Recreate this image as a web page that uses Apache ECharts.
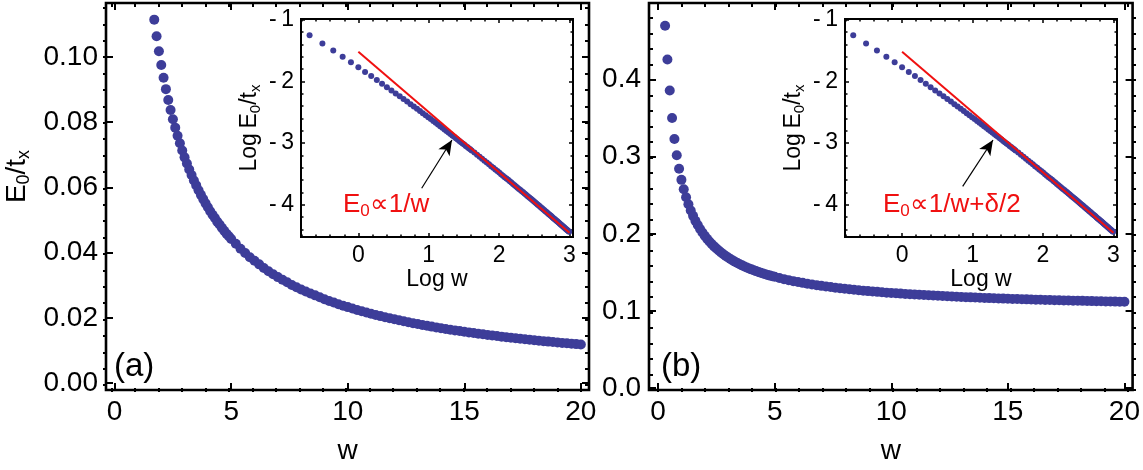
<!DOCTYPE html>
<html>
<head>
<meta charset="utf-8">
<script src="https://cdn.jsdelivr.net/npm/echarts@6/dist/echarts.min.js"></script>
<style>
  html, body { margin: 0; padding: 0; background: #fff; }
  #chart { width: 1143px; height: 470px; }
</style>
</head>
<body>
<div id="chart"></div>
<script>
// coupling w (same grid for both panels)
var wValues = [
    0.3, 0.4, 0.5, 0.6, 0.7, 0.8, 0.9, 1.0, 1.1, 1.2, 1.3, 1.4, 1.5, 1.6, 1.7, 1.8, 1.9, 2.0,
    2.1, 2.2, 2.3, 2.4, 2.5, 2.6, 2.7, 2.8, 2.9, 3.0, 3.1, 3.2, 3.3, 3.4, 3.5, 3.6, 3.7, 3.8,
    3.9, 4.0, 4.1, 4.2, 4.3, 4.4, 4.5, 4.6, 4.7, 4.8, 4.9, 5.0,
    5.2, 5.4, 5.6, 5.8, 6.0, 6.2, 6.4, 6.6, 6.8, 7.0, 7.2, 7.4, 7.6, 7.8, 8.0, 8.2, 8.4, 8.6,
    8.8, 9.0, 9.2, 9.4, 9.6, 9.8, 10.0, 10.2, 10.4, 10.6, 10.8, 11.0, 11.2, 11.4, 11.6, 11.8,
    12.0, 12.2, 12.4, 12.6, 12.8, 13.0, 13.2, 13.4, 13.6, 13.8, 14.0, 14.2, 14.4, 14.6, 14.8,
    15.0, 15.2, 15.4, 15.6, 15.8, 16.0, 16.2, 16.4, 16.6, 16.8, 17.0, 17.2, 17.4, 17.6, 17.8,
    18.0, 18.2, 18.4, 18.6, 18.8, 19.0, 19.2, 19.4, 19.6, 19.8, 20.0
];
// E0/tx, panel (a)
var energyA = [
    0.370, 0.327, 0.2860, 0.2503, 0.2231, 0.2018, 0.1844, 0.1700, 0.1578, 0.1474, 0.1383,
    0.1303, 0.1233, 0.1168, 0.1114, 0.1063, 0.1017, 0.0975, 0.0936, 0.0901, 0.0868, 0.0837,
    0.0809, 0.0783, 0.0758, 0.0735, 0.0713, 0.0692, 0.0673, 0.0655, 0.0638, 0.0621, 0.0606,
    0.0591, 0.0577, 0.0564, 0.0551, 0.0539, 0.0527, 0.0516, 0.0506, 0.0495, 0.0486, 0.0476,
    0.0467, 0.0458, 0.0450, 0.0442,
    0.0427, 0.0412, 0.0399, 0.0386, 0.0375, 0.0364, 0.0353, 0.0343, 0.0334, 0.0325, 0.0317,
    0.0309, 0.0301, 0.0294, 0.0287, 0.0281, 0.0275, 0.0269, 0.0263, 0.0257, 0.0252, 0.0247,
    0.0242, 0.0237, 0.0233, 0.02286, 0.02244, 0.02203, 0.02165, 0.02127, 0.02091, 0.02055,
    0.02021, 0.01989, 0.01956, 0.01925, 0.01895, 0.01866, 0.01838, 0.01811, 0.01784, 0.01758,
    0.01733, 0.01709, 0.01685, 0.01662, 0.01639, 0.01617, 0.01596, 0.01575, 0.01555, 0.01535,
    0.01515, 0.01496, 0.01478, 0.01460, 0.01443, 0.01425, 0.01409, 0.01392, 0.01376, 0.01361,
    0.01345, 0.01330, 0.01315, 0.01301, 0.01287, 0.01273, 0.01260, 0.01247, 0.01233, 0.01221,
    0.01208, 0.01196, 0.01184
];
// E0/tx, panel (b)
var energyB = [
    0.470, 0.426, 0.3860, 0.3503, 0.3231, 0.3018, 0.2844, 0.2700, 0.2578, 0.2474, 0.2383,
    0.2303, 0.2233, 0.2168, 0.2114, 0.2063, 0.2017, 0.1975, 0.1936, 0.1901, 0.1868, 0.1837,
    0.1809, 0.1783, 0.1758, 0.1735, 0.1713, 0.1692, 0.1673, 0.1655, 0.1638, 0.1621, 0.1606,
    0.1591, 0.1577, 0.1564, 0.1551, 0.1539, 0.1527, 0.1516, 0.1506, 0.1495, 0.1486, 0.1476,
    0.1467, 0.1458, 0.1450, 0.1442,
    0.1427, 0.1412, 0.1399, 0.1386, 0.1375, 0.1364, 0.1353, 0.1343, 0.1334, 0.1325, 0.1317,
    0.1309, 0.1301, 0.1294, 0.1287, 0.1281, 0.1275, 0.1269, 0.1263, 0.1257, 0.1252, 0.1247,
    0.1242, 0.1237, 0.1233, 0.12286, 0.12244, 0.12203, 0.12165, 0.12127, 0.12091, 0.12055,
    0.12021, 0.11989, 0.11956, 0.11925, 0.11895, 0.11866, 0.11838, 0.11811, 0.11784, 0.11758,
    0.11733, 0.11709, 0.11685, 0.11662, 0.11639, 0.11617, 0.11596, 0.11575, 0.11555, 0.11535,
    0.11515, 0.11496, 0.11478, 0.11460, 0.11443, 0.11425, 0.11409, 0.11392, 0.11376, 0.11361,
    0.11345, 0.11330, 0.11315, 0.11301, 0.11287, 0.11273, 0.11260, 0.11247, 0.11233, 0.11221,
    0.11208, 0.11196, 0.11184
];
var halfDelta = 0.1;           // offset removed before taking the log in inset (b)
// red guide line in the insets (Log w, Log E0/tx)
var fitLogW = [0, 3];
var fitLogE = [-1.52, -4.45];

// ticks
var mainXTicks = [0, 5, 10, 15, 20];
var mainXMinor = [0, 1, 2, 3, 4, 5, 6, 7, 8, 9, 10, 11, 12, 13, 14, 15, 16, 17, 18, 19, 20];
var mainAYTicks = [0, 0.02, 0.04, 0.06, 0.08, 0.10];
var mainAYMinor = [0, 0.005, 0.01, 0.015, 0.02, 0.025, 0.03, 0.035, 0.04, 0.045, 0.05,
    0.055, 0.06, 0.065, 0.07, 0.075, 0.08, 0.085, 0.09, 0.095, 0.10, 0.105, 0.11, 0.115];
var mainBYTicks = [0, 0.1, 0.2, 0.3, 0.4];
var mainBYMinor = [0, 0.02, 0.04, 0.06, 0.08, 0.1, 0.12, 0.14, 0.16, 0.18, 0.2, 0.22, 0.24,
    0.26, 0.28, 0.3, 0.32, 0.34, 0.36, 0.38, 0.4, 0.42, 0.44, 0.46, 0.48];
var insetXTicks = [0, 1, 2, 3];
var insetXMinor = [-0.8, -0.6, -0.4, -0.2, 0, 0.2, 0.4, 0.6, 0.8, 1, 1.2, 1.4, 1.6, 1.8, 2,
    2.2, 2.4, 2.6, 2.8, 3];
var insetYTicks = [-4, -3, -2, -1];
var insetYMinor = [-4.4, -4.2, -4, -3.8, -3.6, -3.4, -3.2, -3, -2.8, -2.6, -2.4, -2.2, -2,
    -1.8, -1.6, -1.4, -1.2, -1];

var FONT = '"Liberation Sans", Arial, sans-serif';
var DOT = '#3d3d99';
var RED = '#f01010';

// one panel frame = two stacked grids: majors (with labels) and minors
function frameAxes(dim, grid, range, majors, minors, st) {
    var sides = dim === 'x' ? ['bottom', 'top'] : ['left', 'right'];
    var list = [];
    [majors, minors].forEach(function (ticks, m) {
        sides.forEach(function (side, s) {
            var ax = {
                type: 'value',
                gridIndex: grid + m,
                position: side,
                min: range[0],
                max: range[1],
                axisLine: { show: false, onZero: false },
                splitLine: { show: false },
                axisTick: {
                    show: true,
                    inside: true,
                    customValues: ticks,
                    length: m ? st.minorLen : st.majorLen,
                    lineStyle: { color: '#000', width: st.tickWidth }
                },
                axisLabel: { show: false }
            };
            if (m === 0 && s === 0) {
                ax.axisLabel = {
                    show: true,
                    customValues: ticks,
                    margin: st.labelMargin,
                    color: '#000',
                    fontFamily: FONT,
                    fontSize: st.labelSize,
                    formatter: st.formatter
                };
                if (st.name) {
                    ax.name = st.name;
                    ax.nameLocation = 'middle';
                    ax.nameGap = st.nameGap;
                    ax.nameTextStyle = st.nameStyle;
                }
            }
            list.push(ax);
        });
    });
    return list;
}

// rich styles with a lowered subscript; key is 'color' for axis names, 'fill' for graphic text
function subRich(size, color, key) {
    var small = Math.round(size * 0.66);
    var n = { fontFamily: FONT, fontSize: size, lineHeight: size };
    var s = { fontFamily: FONT, fontSize: small, lineHeight: small,
              padding: [Math.round(size * 0.5), 0, 0, 0] };
    n[key || 'color'] = color;
    s[key || 'color'] = color;
    return { n: n, s: s };
}

var mainStyle = { majorLen: 7, minorLen: 4, tickWidth: 2, labelMargin: 8, labelSize: 28 };
var insetStyle = { majorLen: 4, minorLen: 2.5, tickWidth: 1.5, labelMargin: 7, labelSize: 23 };

function ext(base, more) {
    var o = {};
    for (var k in base) o[k] = base[k];
    for (var k2 in more) o[k2] = more[k2];
    return o;
}

var fixed = function (d) { return function (v) { return v.toFixed(d); }; };
var minus = function (v) { return v < 0 ? '-\u2009' + Math.abs(v) : String(v); };

// grids: [main a, main a minors, inset a, inset a minors, main b, ..., inset b, ...]
var grids = [];
function addGrid(left, top, width, height, border, bg) {
    grids.push({ left: left, top: top, width: width, height: height, show: true,
        borderColor: '#000', borderWidth: border, backgroundColor: bg });
    grids.push({ left: left, top: top, width: width, height: height, show: false });
}
addGrid(103, 3, 486, 389, 2.6, 'transparent');
addGrid(301, 19, 272, 218, 2, '#fff');
addGrid(649, 3, 487, 389, 2.6, 'transparent');
addGrid(845, 19, 272, 218, 2, '#fff');

var xName = { fontFamily: FONT, fontSize: 28, color: '#000' };
var insetXName = { fontFamily: FONT, fontSize: 23, color: '#000' };
var yNameA = { rich: subRich(28, '#000'), padding: [0, 0, 0, 40] };
var insetYName = { rich: subRich(23, '#000') };
var xAxes = [].concat(
    frameAxes('x', 0, [-0.37, 20.35], mainXTicks, mainXMinor, ext(mainStyle, {
        formatter: fixed(0), name: 'w', nameGap: 47, nameStyle: xName })),
    frameAxes('x', 2, [-0.815, 3.05], insetXTicks, insetXMinor, ext(insetStyle, {
        formatter: fixed(0), name: 'Log w', nameGap: 27, nameStyle: insetXName })),
    frameAxes('x', 4, [-0.39, 20.35], mainXTicks, mainXMinor, ext(mainStyle, {
        formatter: fixed(0), name: 'w', nameGap: 47, nameStyle: xName })),
    frameAxes('x', 6, [-0.81, 3.05], insetXTicks, insetXMinor, ext(insetStyle, {
        formatter: fixed(0), name: 'Log w', nameGap: 27, nameStyle: insetXName }))
);
var yAxes = [].concat(
    frameAxes('y', 0, [-0.0021, 0.1165], mainAYTicks, mainAYMinor, ext(mainStyle, {
        formatter: fixed(2), name: '{n|E}{s|0}{n|/t}{s|x}', nameGap: 75, nameStyle: yNameA })),
    frameAxes('y', 2, [-4.52, -0.99], insetYTicks, insetYMinor, ext(insetStyle, {
        formatter: minus, name: '{n|Log\u2009E}{s|0}{n|/t}{s|x}', nameGap: 40,
        nameStyle: insetYName })),
    frameAxes('y', 4, [-0.0026, 0.4994], mainBYTicks, mainBYMinor, ext(mainStyle, {
        formatter: fixed(1) })),
    frameAxes('y', 6, [-4.52, -0.99], insetYTicks, insetYMinor, ext(insetStyle, {
        formatter: minus, name: '{n|Log\u2009E}{s|0}{n|/t}{s|x}', nameGap: 40,
        nameStyle: insetYName }))
);

function mainPoints(energy) {
    return wValues.map(function (w, i) { return [w, energy[i]]; });
}
function logPoints(energy, shift) {
    return wValues.map(function (w, i) { return [Math.log(w), Math.log(energy[i] - shift)]; });
}
var fitLine = fitLogW.map(function (x, i) { return [x, fitLogE[i]]; });

function arrow(from, to) {
    return {
        silent: true,
        symbol: ['none', 'arrow'],
        symbolSize: [10, 15],
        lineStyle: { color: '#000', width: 1.2, type: 'solid' },
        label: { show: false },
        data: [[{ coord: from }, { coord: to }]]
    };
}

var dotStyle = { color: DOT, opacity: 1 };
var series = [
    { type: 'scatter', xAxisIndex: 0, yAxisIndex: 0, data: mainPoints(energyA),
      symbolSize: 10, itemStyle: dotStyle, clip: true },
    { type: 'scatter', xAxisIndex: 4, yAxisIndex: 4, data: logPoints(energyA, 0),
      symbolSize: 6, itemStyle: dotStyle, clip: true, z: 5 },
    { type: 'line', xAxisIndex: 4, yAxisIndex: 4, data: fitLine, symbol: 'none',
      lineStyle: { color: RED, width: 2 }, z: 6,
      markLine: arrow([0.9, -3.73], [1.33, -2.95]) },
    { type: 'scatter', xAxisIndex: 8, yAxisIndex: 8, data: mainPoints(energyB),
      symbolSize: 10, itemStyle: dotStyle, clip: true },
    { type: 'scatter', xAxisIndex: 12, yAxisIndex: 12, data: logPoints(energyB, halfDelta),
      symbolSize: 6, itemStyle: dotStyle, clip: true, z: 5 },
    { type: 'line', xAxisIndex: 12, yAxisIndex: 12, data: fitLine, symbol: 'none',
      lineStyle: { color: RED, width: 2 }, z: 6,
      markLine: arrow([0.86, -3.7], [1.29, -2.95]) }
];

var redRich = subRich(26, RED, 'fill');

var chart = echarts.init(document.getElementById('chart'));
chart.setOption({
    animation: false,
    backgroundColor: '#fff',
    grid: grids,
    xAxis: xAxes,
    yAxis: yAxes,
    series: series,
    graphic: [
        { type: 'text', left: 114, top: 350, style: { text: '(a)', font: '33px ' + FONT, fill: '#000' } },
        { type: 'text', left: 661, top: 350, style: { text: '(b)', font: '33px ' + FONT, fill: '#000' } },
        { type: 'text', left: 343, top: 190, z: 10,
          style: { text: '{n|E}{s|0}{n|\u221d1/w}', rich: redRich } },
        { type: 'text', left: 883, top: 190, z: 10,
          style: { text: '{n|E}{s|0}{n|\u221d1/w+\u03b4/2}', rich: redRich } }
    ]
});
</script>
</body>
</html>
